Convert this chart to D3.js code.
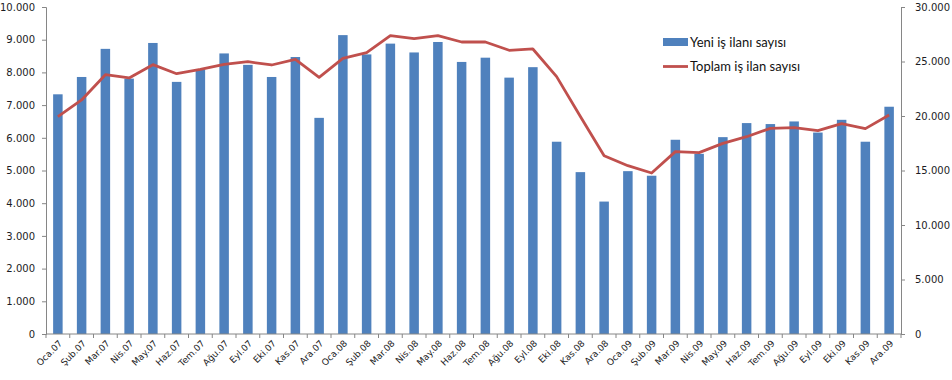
<!DOCTYPE html>
<html>
<head>
<meta charset="utf-8">
<script src="https://cdn.jsdelivr.net/npm/d3@7"></script>
<style>
  html, body { margin: 0; padding: 0; background: #fff; }
  .tick-label { font-family: "DejaVu Sans", Tahoma, sans-serif; font-size: 10px; fill: #1c1c24; }
  .x-label    { font-family: "DejaVu Sans", Tahoma, sans-serif; font-size: 9px;  fill: #1c1c24; }
  .legend-txt { font-family: Lato, "Open Sans", sans-serif; font-size: 13px; fill: #111; }
</style>
</head>
<body>
<svg id="chart"></svg>
<script>
const MONTHS = ["Oca", "Şub", "Mar", "Nis", "May", "Haz", "Tem", "Ağu", "Eyl", "Eki", "Kas", "Ara"];
const YEARS  = ["07", "08", "09"];
const CATEGORIES = YEARS.flatMap((y) => MONTHS.map((m) => `${m}.${y}`));

// Yeni iş ilanı sayısı (bars, left axis)
const NEW_ADS = [
  7330, 7860, 8720, 7810, 8900, 7710, 8090, 8580, 8230, 7860, 8470, 6610,
  9140, 8550, 8880, 8610, 8930, 8320, 8450, 7840, 8160, 5880, 4950, 4050,
  4980, 4840, 5940, 5510, 6020, 6450, 6420, 6500, 6160, 6550, 5880, 6950
];

// Toplam iş ilan sayısı (line, right axis)
const TOTAL_ADS = [
  19940, 21470, 23790, 23490, 24710, 23880, 24280, 24740, 24980, 24680, 25200, 23550,
  25290, 25810, 27370, 27090, 27370, 26790, 26790, 26030, 26150, 23610, 19950, 16350,
  15440, 14770, 16730, 16640, 17490, 18100, 18870, 18930, 18650, 19300, 18840, 20090
];

const LEFT_TICKS  = [0, 1000, 2000, 3000, 4000, 5000, 6000, 7000, 8000, 9000, 10000];
const RIGHT_TICKS = [0, 5000, 10000, 15000, 20000, 25000, 30000];
const LEGEND = ["Yeni iş ilanı sayısı", "Toplam iş ilan sayısı"];

const SVG_W = 952;
const SVG_H = 380;
const MARGIN = { top: 7, right: 51, bottom: 46, left: 46 };
const PLOT_W = SVG_W - MARGIN.left - MARGIN.right;
const PLOT_H = SVG_H - MARGIN.top - MARGIN.bottom;

const BAR_COLOR  = "#4f81bd";
const LINE_COLOR = "#c0504d";
const AXIS_COLOR = "#868686";

// Turkish-style thousands separator
const fmt = (d) => d === 0 ? "0" : d3.format(",")(d).replace(/,/g, ".");

const svg = d3.select("#chart")
  .attr("width", SVG_W)
  .attr("height", SVG_H);

const x = d3.scaleBand()
  .domain(CATEGORIES)
  .range([MARGIN.left, MARGIN.left + PLOT_W])
  .paddingInner(0.6)
  .paddingOuter(0.3);

const yL = d3.scaleLinear().domain([0, 10000]).range([MARGIN.top + PLOT_H, MARGIN.top]);
const yR = d3.scaleLinear().domain([0, 30000]).range([MARGIN.top + PLOT_H, MARGIN.top]);

// Bars
svg.append("g")
  .selectAll("rect")
  .data(NEW_ADS)
  .enter().append("rect")
  .attr("x", (d, i) => x(CATEGORIES[i]))
  .attr("y", (d) => yL(d))
  .attr("width", x.bandwidth())
  .attr("height", (d) => yL(0) - yL(d))
  .attr("fill", BAR_COLOR);

// Left axis
const leftAxis = svg.append("g")
  .attr("transform", `translate(${MARGIN.left},0)`)
  .call(d3.axisLeft(yL).tickValues(LEFT_TICKS).tickFormat(fmt).tickSize(4).tickPadding(7));

// Right axis
const rightAxis = svg.append("g")
  .attr("transform", `translate(${MARGIN.left + PLOT_W},0)`)
  .call(d3.axisRight(yR).tickValues(RIGHT_TICKS).tickFormat(fmt).tickSize(4).tickPadding(10));

[leftAxis, rightAxis].forEach((g) => {
  g.select(".domain").attr("stroke", AXIS_COLOR);
  g.selectAll(".tick line").attr("stroke", AXIS_COLOR);
  g.selectAll(".tick text").attr("class", "tick-label").attr("font-family", null).attr("font-size", null);
});

// X axis: ticks sit between categories
const xBase = yL(0);
const boundaries = d3.range(CATEGORIES.length + 1).map((k) => MARGIN.left + x.step() * k);

svg.append("line")
  .attr("x1", MARGIN.left).attr("x2", MARGIN.left + PLOT_W)
  .attr("y1", xBase).attr("y2", xBase)
  .attr("stroke", AXIS_COLOR);

svg.append("g").selectAll("line")
  .data(boundaries)
  .enter().append("line")
  .attr("x1", (d) => d).attr("x2", (d) => d)
  .attr("y1", xBase).attr("y2", xBase + 4)
  .attr("stroke", AXIS_COLOR);

svg.append("g").selectAll("text")
  .data(CATEGORIES)
  .enter().append("text")
  .attr("class", "x-label")
  .attr("text-anchor", "end")
  .attr("transform", (d) => `translate(${x(d) + x.bandwidth() / 2 + 5},${xBase + 10}) rotate(-45)`)
  .text((d) => d);

// Total line
const line = d3.line()
  .x((d, i) => x(CATEGORIES[i]) + x.bandwidth() / 2)
  .y((d) => yR(d));

svg.append("path")
  .datum(TOTAL_ADS)
  .attr("fill", "none")
  .attr("stroke", LINE_COLOR)
  .attr("stroke-width", 2.8)
  .attr("stroke-linejoin", "round")
  .attr("d", line);

// Legend
const lg = svg.append("g").attr("transform", "translate(663,0)");
lg.append("rect")
  .attr("x", 0).attr("y", 38).attr("width", 25).attr("height", 8)
  .attr("fill", BAR_COLOR);
lg.append("text").attr("class", "legend-txt").attr("x", 27).attr("y", 47).text(LEGEND[0]);
lg.append("line")
  .attr("x1", 0).attr("x2", 25).attr("y1", 66.5).attr("y2", 66.5)
  .attr("stroke", LINE_COLOR).attr("stroke-width", 2.8);
lg.append("text").attr("class", "legend-txt").attr("x", 27).attr("y", 71).text(LEGEND[1]);
</script>
</body>
</html>
